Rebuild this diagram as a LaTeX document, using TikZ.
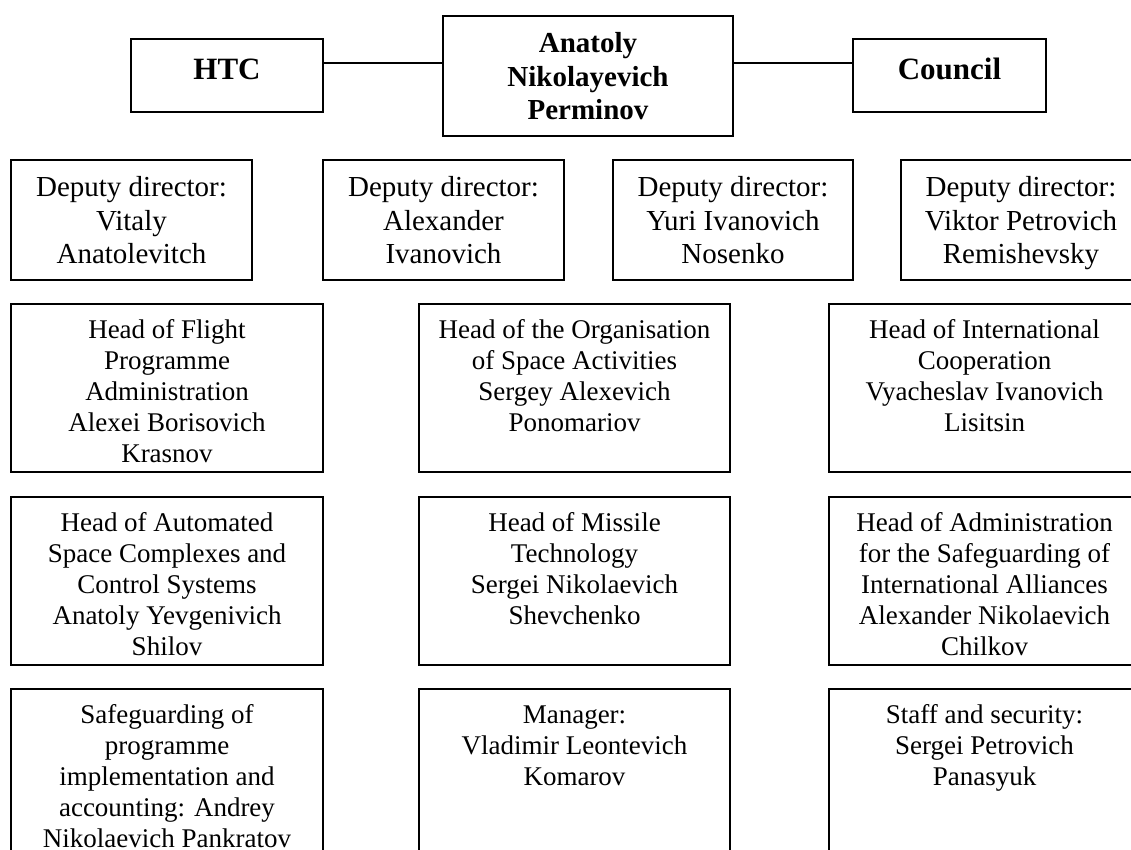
\documentclass[tikz,border=0pt]{standalone}
\usepackage{fontspec}
\setmainfont{Liberation Serif}

% fixed-size cell: width, height, first-baseline offset, content
\newcommand\cell[4]{\parbox[c][#2pt][t]{#1pt}{\centering\rule{0pt}{#3pt}#4\par}}
\newcommand\sidefont{\fontsize{31pt}{35pt}\selectfont\bfseries}
\newcommand\headfont{\fontsize{29pt}{33.5pt}\selectfont\bfseries}
\newcommand\depfont{\fontsize{29pt}{33pt}\selectfont}
\newcommand\lowfont{\fontsize{27pt}{31pt}\selectfont}

\begin{document}
\begin{tikzpicture}[x=1pt,y=-1pt,
  frame/.style={draw=black, line width=1.3pt, inner sep=0pt, outer sep=0pt},
  link/.style={draw=black, line width=1.3pt}]

\path[use as bounding box] (0,0) rectangle (1131,850);
\fill[white] (0,0) rectangle (1131,850);
\clip (0,0) rectangle (1131,850);

% top level
\node[frame] (htc) at (227,75.5)  {\cell{192}{73}{41}{\sidefont HTC}};
\node[frame] (ceo) at (588,76)    {\cell{290}{120}{37}{\headfont Anatoly\\Nikolayevich\\Perminov}};
\node[frame] (cnc) at (949.5,75.5){\cell{193}{73}{41}{\sidefont Council}};

\coordinate (lk) at (588,63);
\draw[link] (htc.east |- lk) -- (ceo.west |- lk);
\draw[link] (ceo.east |- lk) -- (cnc.west |- lk);

% deputy directors
\node[frame] (d1) at (131.5,220) {\cell{241}{120}{37}{\depfont Deputy director:\\Vitaly\\Anatolevitch}};
\node[frame] (d2) at (443.5,220) {\cell{241}{120}{37}{\depfont Deputy director:\\Alexander\\Ivanovich}};
\node[frame] (d3) at (733,220)   {\cell{240}{120}{37}{\depfont Deputy director:\\Yuri Ivanovich\\Nosenko}};
\node[frame] (d4) at (1021,220)  {\cell{240}{120}{37}{\depfont Deputy director:\\Viktor Petrovich\\Remishevsky}};

% heads of departments, left column
\node[frame] (l1) at (167,388) {\cell{312}{168}{34}{\lowfont Head of Flight\\Programme\\Administration\\Alexei Borisovich\\Krasnov}};
\node[frame] (l2) at (167,581) {\cell{312}{168}{34}{\lowfont Head of Automated\\Space Complexes and\\Control Systems\\Anatoly Yevgenivich\\Shilov}};
\node[frame] (l3) at (167,773) {\cell{312}{168}{34}{\lowfont Safeguarding of\\programme\\implementation and\\accounting: Andrey\\Nikolaevich Pankratov}};

% middle column
\node[frame] (m1) at (574.5,388) {\cell{311}{168}{34}{\lowfont Head of the Organisation\\of Space Activities\\Sergey Alexevich\\Ponomariov}};
\node[frame] (m2) at (574.5,581) {\cell{311}{168}{34}{\lowfont Head of Missile\\Technology\\Sergei Nikolaevich\\Shevchenko}};
\node[frame] (m3) at (574.5,773) {\cell{311}{168}{34}{\lowfont Manager:\\Vladimir Leontevich\\Komarov}};

% right column
\node[frame] (r1) at (984.5,388) {\cell{311}{168}{34}{\lowfont Head of International\\Cooperation\\Vyacheslav Ivanovich\\Lisitsin}};
\node[frame] (r2) at (984.5,581) {\cell{311}{168}{34}{\lowfont Head of Administration\\for the Safeguarding of\\International Alliances\\Alexander Nikolaevich\\Chilkov}};
\node[frame] (r3) at (984.5,773) {\cell{311}{168}{34}{\lowfont Staff and security:\\Sergei Petrovich\\Panasyuk}};

\end{tikzpicture}
\end{document}
